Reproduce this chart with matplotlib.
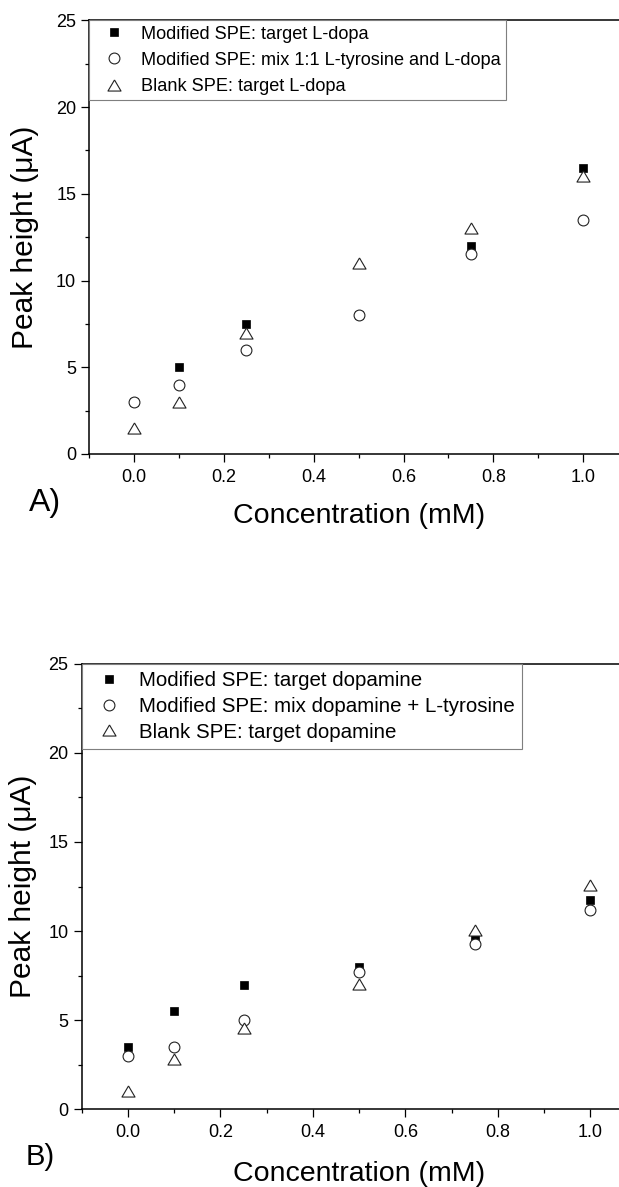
import matplotlib
matplotlib.use("Agg")
import matplotlib.pyplot as plt
from matplotlib.ticker import MultipleLocator

plt.rcParams["font.family"] = ["Liberation Sans", "DejaVu Sans"]

# concentrations (mM)
conc = [0.0, 0.1, 0.25, 0.5, 0.75, 1.0]

# panel A: L-dopa
a_modified = [3.0, 5.0, 7.5, 8.0, 12.0, 16.5]
a_mix = [3.0, 4.0, 6.0, 8.0, 11.5, 13.5]
a_blank = [1.5, 3.0, 7.0, 11.0, 13.0, 16.0]
a_labels = ["Modified SPE: target L-dopa",
            "Modified SPE: mix 1:1 L-tyrosine and L-dopa",
            "Blank SPE: target L-dopa"]

# panel B: dopamine
b_modified = [3.5, 5.5, 7.0, 8.0, 9.6, 11.75]
b_mix = [3.0, 3.5, 5.0, 7.7, 9.25, 11.2]
b_blank = [1.05, 2.8, 4.55, 7.05, 10.05, 12.6]
b_labels = ["Modified SPE: target dopamine",
            "Modified SPE: mix dopamine + L-tyrosine",
            "Blank SPE: target dopamine"]

W, H = 619, 1187
fig = plt.figure(figsize=(W / 100, H / 100), dpi=100)

# flat open triangle like the Origin default
tri = [(0, 0.85), (-1, -0.85), (1, -0.85), (0, 0.85)]


def panel(rect, modified, mix, blank, labels, tag, tag_xy, ylab_x, leg_kw):
    ax = fig.add_axes(rect)
    ax.plot(conc, modified, ls="none", marker="s", ms=5.8, mfc="black",
            mec="black", mew=0.5, label=labels[0])
    ax.plot(conc, mix, ls="none", marker="o", ms=7.8, mfc="white",
            mec="#222222", mew=0.8, label=labels[1])
    ax.plot(conc, blank, ls="none", marker=tri, ms=9.4, mfc="white",
            mec="#222222", mew=0.8, label=labels[2])

    ax.set_xlim(-0.1, 1.1)
    ax.set_ylim(0, 25)
    ax.xaxis.set_major_locator(MultipleLocator(0.2))
    ax.xaxis.set_minor_locator(MultipleLocator(0.1))
    ax.yaxis.set_major_locator(MultipleLocator(5))
    ax.yaxis.set_minor_locator(MultipleLocator(2.5))
    ax.set_xticks([0.0, 0.2, 0.4, 0.6, 0.8, 1.0])
    ax.set_xticklabels(["0.0", "0.2", "0.4", "0.6", "0.8", "1.0"])
    ax.tick_params(which="major", direction="out", length=5.5, width=0.9,
                   labelsize=13, pad=4)
    ax.tick_params(which="minor", direction="out", length=3, width=0.9)
    ax.tick_params(axis="x", which="major", pad=5)
    for s in ax.spines.values():
        s.set_linewidth(1.1)

    ax.set_xlabel("Concentration (mM)", fontsize=20.5)
    ax.set_ylabel("Peak height (\u03bcA)", fontsize=21.5)
    ax.xaxis.set_label_coords(0.5, -0.16)
    ax.xaxis.label.set_verticalalignment("baseline")
    ax.yaxis.set_label_coords(ylab_x, 0.5)
    ax.yaxis.label.set_verticalalignment("baseline")

    leg = ax.legend(loc="upper left", bbox_to_anchor=(0, 1), frameon=True,
                    fancybox=False, borderaxespad=0, framealpha=1, **leg_kw)
    leg.get_frame().set_edgecolor("#7f7f7f")
    leg.get_frame().set_linewidth(0.8)

    fig.text(tag_xy[0] / W, 1 - tag_xy[1] / H, tag, fontsize=tag_xy[2],
             ha="left", va="baseline")
    return ax


panel([89.4 / W, 1 - 454 / H, 538.6 / W, 433.7 / H],
      a_modified, a_mix, a_blank, a_labels, "A)", (29, 511, 23), -0.105,
      dict(fontsize=13.1, borderpad=0.3, labelspacing=0.5,
           handlelength=2.08, handletextpad=0.45))
panel([81.7 / W, 1 - 1109.3 / H, 554.9 / W, 445.5 / H],
      b_modified, b_mix, b_blank, b_labels, "B)", (26, 1165, 21), -0.092,
      dict(fontsize=14.8, borderpad=0.35, labelspacing=0.33,
           handlelength=1.92, handletextpad=0.52))

fig.savefig("out.png", dpi=100, facecolor="white")
